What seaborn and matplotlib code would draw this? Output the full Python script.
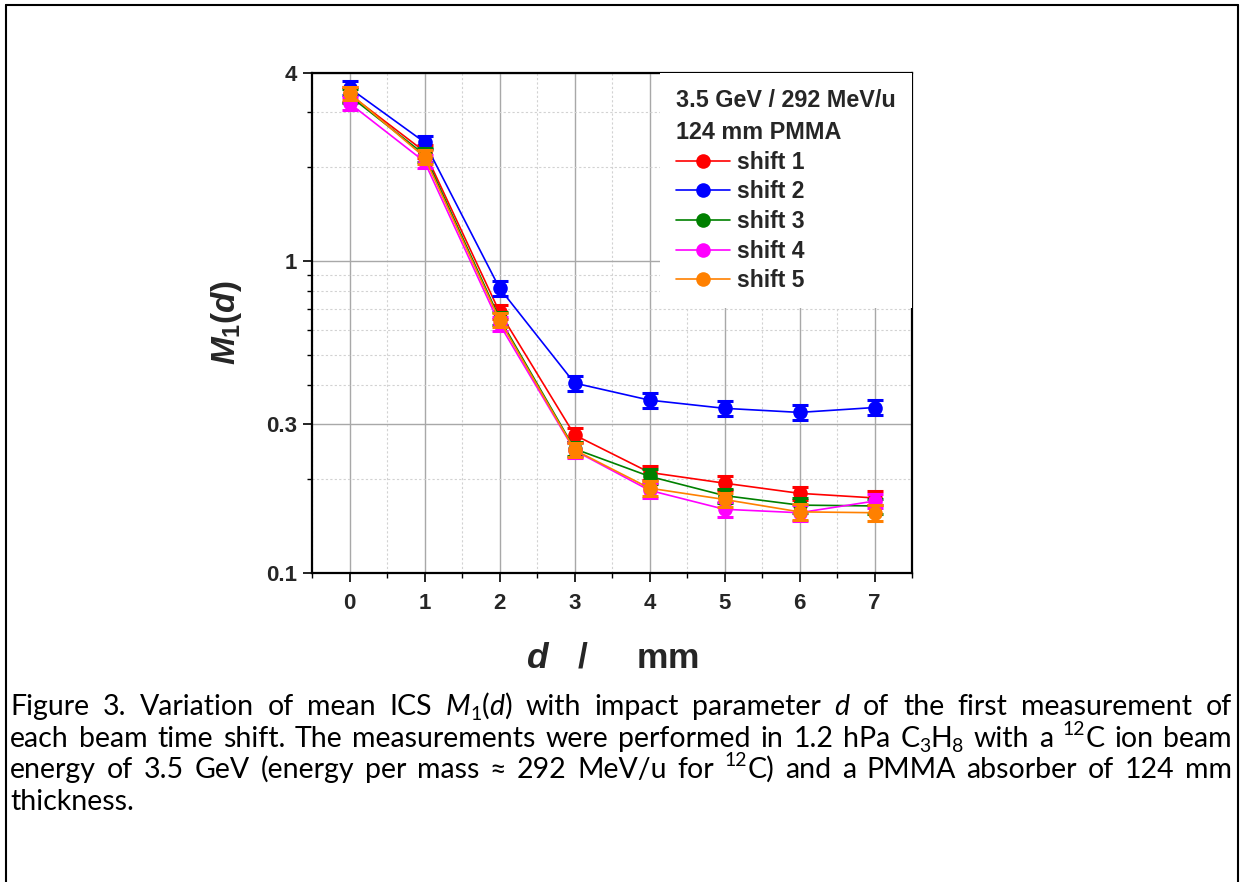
import re
import numpy as np
import pandas as pd
import matplotlib
matplotlib.use("Agg")
import matplotlib.pyplot as plt
import seaborn as sns
from matplotlib.lines import Line2D
from matplotlib.ticker import FixedLocator, FixedFormatter, LogLocator, NullFormatter, MultipleLocator

# ---------------- data ----------------
d_mm = [0, 1, 2, 3, 4, 5, 6, 7]
shift1 = [3.42, 2.24, 0.686, 0.277, 0.210, 0.194, 0.180, 0.174]
shift2 = [3.58, 2.40, 0.818, 0.406, 0.358, 0.337, 0.327, 0.339]
shift3 = [3.38, 2.19, 0.655, 0.250, 0.204, 0.177, 0.165, 0.164]
shift4 = [3.20, 2.08, 0.627, 0.247, 0.184, 0.160, 0.156, 0.170]
shift5 = [3.45, 2.15, 0.646, 0.248, 0.187, 0.172, 0.157, 0.156]
err1 = [0.18, 0.11, 0.035, 0.015, 0.011, 0.010, 0.009, 0.009]
err2 = [0.18, 0.12, 0.045, 0.022, 0.020, 0.019, 0.018, 0.019]
err3 = [0.17, 0.11, 0.033, 0.013, 0.011, 0.009, 0.009, 0.009]
err4 = [0.16, 0.10, 0.032, 0.013, 0.010, 0.009, 0.009, 0.009]
err5 = [0.17, 0.11, 0.033, 0.013, 0.010, 0.009, 0.009, 0.009]
labels = ["shift 1", "shift 2", "shift 3", "shift 4", "shift 5"]
colors = ["#ff0000", "#0000ff", "#008000", "#ff00ff", "#ff8000"]
y_ticks = [0.1, 0.3, 1, 4]
y_ticklabels = ["0.1", "0.3", "1", "4"]
x_ticks = [0, 1, 2, 3, 4, 5, 6, 7]
legend_title = "3.5 GeV / 292 MeV/u\n124 mm PMMA"

series = [shift1, shift2, shift3, shift4, shift5]
errors = [err1, err2, err3, err4, err5]
df = pd.concat([pd.DataFrame({"d": d_mm, "M": s, "err": e, "shift": l})
                for s, e, l in zip(series, errors, labels)], ignore_index=True)

# ---------------- style ----------------
sns.set_style("white")
plt.rcParams["font.family"] = ["Liberation Sans", "DejaVu Sans"]
plt.rcParams["mathtext.fontset"] = "custom"
plt.rcParams["mathtext.it"] = "Liberation Sans:italic:bold"
plt.rcParams["mathtext.rm"] = "Liberation Sans:bold"
plt.rcParams["mathtext.bf"] = "Liberation Sans:bold"

W, H = 1243, 882
fig = plt.figure(figsize=(W / 100, H / 100), dpi=100)
ax = fig.add_axes([312 / W, 1 - 573 / H, 600 / W, 500 / H])

for i, lab in enumerate(labels):
    sub = df[df["shift"] == lab]
    ax.errorbar(sub["d"], sub["M"], yerr=sub["err"], fmt="none", ecolor=colors[i],
                elinewidth=1.5, capsize=5.5, capthick=2.2, zorder=3 + 2 * i)
    sns.lineplot(data=sub, x="d", y="M", color=colors[i], marker="o", markersize=10.5,
                 markeredgewidth=0, linewidth=1.2, ax=ax, zorder=4 + 2 * i, legend=False,
                 errorbar=None)

ax.set_yscale("log")
ax.set_ylim(0.1, 4)
ax.set_xlim(-0.5, 7.5)
ax.yaxis.set_major_locator(FixedLocator(y_ticks))
ax.yaxis.set_major_formatter(FixedFormatter(y_ticklabels))
ax.yaxis.set_minor_locator(LogLocator(base=10, subs=np.arange(2, 10)))
ax.yaxis.set_minor_formatter(NullFormatter())
ax.xaxis.set_major_locator(FixedLocator(x_ticks))
ax.xaxis.set_minor_locator(MultipleLocator(0.5))

ax.grid(True, which="major", color="#a8a8a8", linewidth=1.0, linestyle="-")
ax.grid(True, which="minor", color="#d2d2d2", linewidth=0.8, linestyle=(0, (2, 2)))
ax.set_axisbelow(True)

for sp in ax.spines.values():
    sp.set_color("black")
    sp.set_linewidth(1.6)

ax.tick_params(which="major", direction="out", length=6.5, width=1.2, color="black",
               labelsize=16, pad=4, left=True, bottom=True)
ax.tick_params(axis="x", which="major", pad=8)
ax.tick_params(which="minor", direction="out", length=3.5, width=1.0, color="black",
               left=True, bottom=True)
for t in ax.get_xticklabels() + ax.get_yticklabels():
    t.set_fontweight("bold")

ax.set_ylabel(r"$M_1(d)$", fontsize=24, labelpad=16)
ax.set_xlabel(r"$d$   /     mm", fontsize=25.5, fontweight="bold", labelpad=20)

handles = [Line2D([], [], color=c, marker="o", markersize=10.5, markeredgewidth=0,
                  linewidth=1.2) for c in colors]
leg = ax.legend(handles, labels, title=legend_title, loc="upper right",
                bbox_to_anchor=(1.0, 1.0), frameon=True, facecolor="white",
                edgecolor="none", framealpha=1, fancybox=False,
                prop={"weight": "bold", "size": 16.5},
                title_fontproperties={"weight": "bold", "size": 16.8},
                alignment="left", handlelength=2.35, handletextpad=0.3,
                labelspacing=0.29, borderpad=0.7, borderaxespad=0.0)
leg.get_title().set_linespacing(1.5)
leg.set_zorder(30)

# ---------------- border ----------------
bw = 1.5
fig.add_artist(Line2D([6 / W, 6 / W], [0, 1 - 5 / H], color="black", lw=bw))
fig.add_artist(Line2D([6 / W, 1238 / W], [1 - 5 / H, 1 - 5 / H], color="black", lw=bw))
fig.add_artist(Line2D([1238 / W, 1238 / W], [0, 1 - 5 / H], color="black", lw=bw))

# ---------------- caption (justified) ----------------
cap_lines = [
    "Figure 3. Variation of mean ICS {i:M}{sub:1}({i:d}) with impact parameter {i:d} of the first measurement of",
    "each beam time shift. The measurements were performed in 1.2 hPa C{sub:3}H{sub:8} with a {sup:12}C ion beam",
    "energy of 3.5 GeV (energy per mass \u2248 292 MeV/u for {sup:12}C) and a PMMA absorber of 124 mm",
    "thickness.",
]
cap_baselines = [715, 747, 778, 810]
cap_size = 20.5
cap_family = ["Lato", "DejaVu Sans"]
x_left, x_right = 10, 1232

fig.canvas.draw()
renderer = fig.canvas.get_renderer()


def parse_word(word):
    segs = []
    pos = 0
    for m in re.finditer(r"\{(i|sub|sup):([^}]*)\}", word):
        if m.start() > pos:
            segs.append((word[pos:m.start()], "n"))
        segs.append((m.group(2), m.group(1)))
        pos = m.end()
    if pos < len(word):
        segs.append((word[pos:], "n"))
    return segs


def make_seg(text, kind, yb):
    size = cap_size
    style = "normal"
    dy = 0.0
    if kind == "i":
        style = "italic"
    elif kind == "sub":
        size = cap_size * 0.68
        dy = -0.18 * cap_size * 100 / 72
    elif kind == "sup":
        size = cap_size * 0.68
        dy = 0.42 * cap_size * 100 / 72
    t = fig.text(0, 1 - (yb - dy) / H, text, fontsize=size, fontstyle=style,
                 family=cap_family, va="baseline", ha="left", color="black")
    w = t.get_window_extent(renderer).width
    return t, w


for li, (line, yb) in enumerate(zip(cap_lines, cap_baselines)):
    words = []
    for wd in line.split(" "):
        segs = [make_seg(tx, k, yb) for tx, k in parse_word(wd)]
        words.append((segs, sum(w for _, w in segs)))
    total = sum(w for _, w in words)
    if li < 3 and len(words) > 1:
        gap = (x_right - x_left - total) / (len(words) - 1)
    else:
        gap = 0.27 * cap_size * 100 / 72
    x = x_left
    for segs, ww in words:
        for t, w in segs:
            t.set_x(x / W)
            x += w
        x += gap

fig.savefig("out.png", dpi=100)
